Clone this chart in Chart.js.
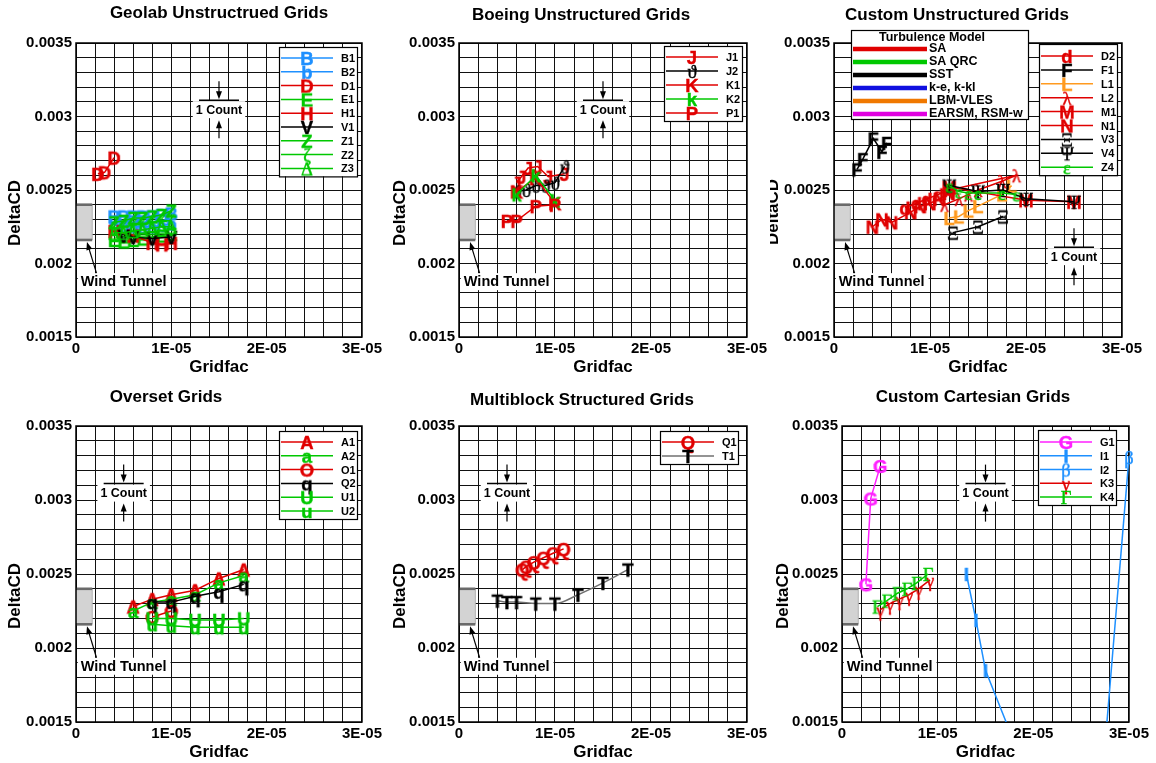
<!DOCTYPE html>
<html>
<head>
<meta charset="utf-8">
<title>DeltaCD vs Gridfac</title>
<script src="https://cdn.jsdelivr.net/npm/chart.js@4/dist/chart.umd.min.js"></script>
<style>
  html, body { margin: 0; padding: 0; background: #fff; }
  #page { position: relative; width: 1156px; height: 763px; overflow: hidden; }
  #page canvas { position: absolute; }
</style>
</head>
<body>
<div id="page">
  <canvas id="pGeolab" width="385" height="380" style="left:0;top:0"></canvas>
  <canvas id="pBoeing" width="385" height="380" style="left:385px;top:0"></canvas>
  <canvas id="pCustomU" width="386" height="380" style="left:770px;top:0"></canvas>
  <canvas id="pOverset" width="385" height="383" style="left:0;top:380px"></canvas>
  <canvas id="pMultiblock" width="385" height="383" style="left:385px;top:380px"></canvas>
  <canvas id="pCartesian" width="386" height="383" style="left:770px;top:380px"></canvas>
</div>
<script>
// axis labels
var xTickValues = [0, 1e-5, 2e-5, 3e-5];
var xTickLabels = ['0', '1E-05', '2E-05', '3E-05'];
var yTickValues = [0.0015, 0.002, 0.0025, 0.003, 0.0035];
var yTickLabels = ['0.0015', '0.002', '0.0025', '0.003', '0.0035'];

// wind tunnel DeltaCD range
var windTunnelCD = [0.00216, 0.0024];
var turbModels = ['SA', 'SA QRC', 'SST', 'k-e, k-kl', 'LBM-VLES', 'EARSM, RSM-w'];

// [gridfac, DeltaCD] per submission
var geoB1 = [[4e-6, 0.00232], [5e-6, 0.00232], [6e-6, 0.00232], [7e-6, 0.00232], [8e-6, 0.00232], [9e-6, 0.00233], [1e-5, 0.00234]];
var geoB2 = [[4e-6, 0.00226], [5e-6, 0.00226], [6e-6, 0.00225], [7e-6, 0.00225], [8e-6, 0.00225], [9e-6, 0.00226], [1e-5, 0.00227]];
var geoD1 = [[2.3e-6, 0.00261], [3e-6, 0.00262], [4e-6, 0.00272]];
var geoE1 = [[4e-6, 0.00216], [5e-6, 0.00215], [6e-6, 0.00216], [7e-6, 0.00217], [8e-6, 0.00218], [9e-6, 0.00219], [1e-5, 0.0022]];
var geoH1 = [[4e-6, 0.00222], [6e-6, 0.00219], [8e-6, 0.00214], [9e-6, 0.00213], [1e-5, 0.00214]];
var geoV1 = [[5e-6, 0.00219], [6e-6, 0.00218], [8e-6, 0.00217], [1e-5, 0.00218]];
var geoZ1 = [[4e-6, 0.00228], [5e-6, 0.00229], [6e-6, 0.00231], [7e-6, 0.00231], [8e-6, 0.00232], [9e-6, 0.00233], [1e-5, 0.00236]];
var geoZ2 = [[4e-6, 0.00224], [5e-6, 0.00225], [6e-6, 0.00226], [7e-6, 0.00227], [8e-6, 0.00228], [9e-6, 0.00229], [1e-5, 0.00229]];
var geoZ3 = [[4e-6, 0.00221], [5e-6, 0.00221], [6e-6, 0.00222], [7e-6, 0.00223], [8e-6, 0.00224], [9e-6, 0.00225], [1e-5, 0.00225]];

var boeJ1 = [[6e-6, 0.00255], [6.5e-6, 0.00259], [7.2e-6, 0.00265], [8.2e-6, 0.00266], [9.3e-6, 0.00259], [1.1e-5, 0.00261]];
var boeJ2 = [[6e-6, 0.00249], [7e-6, 0.0025], [8e-6, 0.00253], [9e-6, 0.00253], [1e-5, 0.00255], [1.1e-5, 0.00266]];
var boeK1 = [[6e-6, 0.00249], [8e-6, 0.00258], [1e-5, 0.00241]];
var boeK2 = [[6e-6, 0.00247], [8e-6, 0.0026], [1e-5, 0.00243]];
var boeP1 = [[5e-6, 0.00229], [6e-6, 0.00229], [8e-6, 0.00239], [1e-5, 0.0024]];

var cusD2 = [[7.4e-6, 0.00238], [8.6e-6, 0.00241], [9.7e-6, 0.00244], [1.09e-5, 0.00247], [1.21e-5, 0.00251]];
var cusF1 = [[2.4e-6, 0.00264], [3e-6, 0.00271], [4.1e-6, 0.00285], [5e-6, 0.00276], [5.5e-6, 0.00282]];
var cusL1 = [[1.2e-5, 0.00231], [1.3e-5, 0.00232], [1.4e-5, 0.00236], [1.5e-5, 0.00239], [1.75e-5, 0.00247], [1.85e-5, 0.00253]];
var cusL2 = [[1.15e-5, 0.0024], [1.3e-5, 0.00244], [1.4e-5, 0.00247], [1.5e-5, 0.0025], [1.75e-5, 0.00256], [1.9e-5, 0.0026], [1.2e-5, 0.0025]];
var cusM1 = [[1.2e-5, 0.00252], [2e-5, 0.00243], [2.5e-5, 0.00242]];
var cusN1 = [[4e-6, 0.00225], [5e-6, 0.0023], [6e-6, 0.00228], [8e-6, 0.00235], [9e-6, 0.00239], [1e-5, 0.00241], [1.1e-5, 0.00244], [1.2e-5, 0.00248]];
var cusV3 = [[1.24e-5, 0.00221], [1.5e-5, 0.00225], [1.76e-5, 0.00232]];
var cusV4 = [[1.2e-5, 0.00253], [1.5e-5, 0.00249], [1.76e-5, 0.0025], [2e-5, 0.00244], [2.5e-5, 0.00242]];
var cusZ4 = [[1.2e-5, 0.00253], [1.3e-5, 0.00249], [1.4e-5, 0.00248], [1.5e-5, 0.00248], [1.75e-5, 0.00248], [1.9e-5, 0.00247]];

var ovA1 = [[6e-6, 0.00228], [8e-6, 0.00233], [1e-5, 0.00236], [1.25e-5, 0.00239], [1.5e-5, 0.00247], [1.76e-5, 0.00253]];
var ovA2 = [[6e-6, 0.00225], [8e-6, 0.00231], [1e-5, 0.00233], [1.25e-5, 0.00236], [1.5e-5, 0.00244], [1.76e-5, 0.00249]];
var ovO1 = [[8e-6, 0.00221], [1e-5, 0.00225]];
var ovQ2 = [[8e-6, 0.00231], [1e-5, 0.00231], [1.25e-5, 0.00235], [1.5e-5, 0.00238], [1.76e-5, 0.00243]];
var ovU1 = [[8e-6, 0.0022], [1e-5, 0.0022], [1.25e-5, 0.00219], [1.5e-5, 0.00219], [1.76e-5, 0.0022]];
var ovU2 = [[8e-6, 0.00216], [1e-5, 0.00215], [1.25e-5, 0.00214], [1.5e-5, 0.00214], [1.76e-5, 0.00214]];

var mbQ1 = [[6.6e-6, 0.00253], [7e-6, 0.00255], [7.8e-6, 0.00258], [8.8e-6, 0.00261], [9.8e-6, 0.00264], [1.09e-5, 0.00267]];
var mbT1 = [[4e-6, 0.00232], [5e-6, 0.00231], [6e-6, 0.00231], [8e-6, 0.0023], [1e-5, 0.0023], [1.24e-5, 0.00236], [1.5e-5, 0.00244], [1.76e-5, 0.00253]];

var ccG1 = [[2.5e-6, 0.00243], [3e-6, 0.00301], [4e-6, 0.00323]];
var ccI1 = [[1.3e-5, 0.0025], [1.4e-5, 0.00219], [1.5e-5, 0.00185], [1.9e-5, 0.0012]];
var ccI2 = [[3e-5, 0.00329], [2.7e-5, 0.00096]];
var ccK3 = [[4e-6, 0.00226], [5e-6, 0.0023], [6e-6, 0.00233], [7e-6, 0.00236], [8e-6, 0.0024], [9.2e-6, 0.00246]];
var ccK4 = [[3.7e-6, 0.00228], [4.7e-6, 0.00232], [5.8e-6, 0.00237], [6.8e-6, 0.0024], [7.8e-6, 0.00244], [9e-6, 0.0025]];

var SANS = '"Liberation Sans", Arial, Helvetica, sans-serif';
var RED = '#e00000', GREEN = '#00c800', BLUE = '#1e90ff', BLACK = '#000000';
var ORANGE = '#ff9a1f', MAGENTA = '#ff20ff', GREY = '#707070';
var turbColors = [RED, GREEN, BLACK, '#1010e0', '#f07800', '#e000e0'];

// minor grid every 2e-6 in x and 1e-4 in y
var xGrid = [], yGrid = [];
for (var k = 0; k <= 15; k++) xGrid.push(k * 2e-6);
for (k = 15; k <= 35; k++) yGrid.push(k / 10000);

var panels = [
  { canvas: 'pGeolab', title: 'Geolab Unstructrued Grids', titleX: 219, titleY: 13, yTitleX: 15, yTitleY: 213,
    pad: { left: 76, top: 43, right: 22, bottom: 43 },
    legend: { left: 279, top: 47, firstRow: 11, rowH: 13.8 },
    count: [1.5e-5, 0.00305],
    series: [
      ['B1', 'B', BLUE, geoB1], ['B2', 'b', BLUE, geoB2], ['D1', 'D', RED, geoD1],
      ['E1', 'E', GREEN, geoE1], ['H1', 'H', RED, geoH1], ['V1', 'V', BLACK, geoV1],
      ['Z1', 'Z', GREEN, geoZ1], ['Z2', '\u03b6', GREEN, geoZ2], ['Z3', '\u0394', GREEN, geoZ3]
    ] },
  { canvas: 'pBoeing', title: 'Boeing Unstructured Grids', titleX: 196, titleY: 15, yTitleX: 15, yTitleY: 213,
    pad: { left: 74, top: 43, right: 23, bottom: 43 },
    legend: { left: 279, top: 46, firstRow: 11, rowH: 14 },
    count: [1.5e-5, 0.00305],
    series: [
      ['J1', 'J', RED, boeJ1], ['J2', '\u03d1', BLACK, boeJ2], ['K1', 'K', RED, boeK1],
      ['K2', 'k', GREEN, boeK2], ['P1', 'P', RED, boeP1]
    ] },
  { canvas: 'pCustomU', title: 'Custom Unstructured Grids', titleX: 187, titleY: 15, yTitleX: 3, yTitleY: 212,
    pad: { left: 64, top: 43, right: 34, bottom: 43 },
    legend: { left: 269, top: 44, firstRow: 12, rowH: 13.9 },
    turbLegend: { left: 81, top: 30, width: 177, height: 89 },
    count: [2.5e-5, 0.00205],
    series: [
      ['D2', 'd', RED, cusD2], ['F1', 'F', BLACK, cusF1], ['L1', 'L', ORANGE, cusL1],
      ['L2', '\u03bb', RED, cusL2], ['M1', 'M', RED, cusM1], ['N1', 'N', RED, cusN1],
      ['V3', '\u039e', BLACK, cusV3], ['V4', '\u03a8', BLACK, cusV4], ['Z4', '\u03b5', GREEN, cusZ4]
    ] },
  { canvas: 'pOverset', title: 'Overset Grids', titleX: 166, titleY: 17, yTitleX: 15, yTitleY: 216,
    pad: { left: 76, top: 46, right: 22, bottom: 41 },
    legend: { left: 279, top: 51, firstRow: 11, rowH: 13.8 },
    count: [5e-6, 0.00305],
    series: [
      ['A1', 'A', RED, ovA1], ['A2', 'a', GREEN, ovA2], ['O1', 'O', RED, ovO1],
      ['Q2', 'q', BLACK, ovQ2], ['U1', 'U', GREEN, ovU1], ['U2', 'u', GREEN, ovU2]
    ] },
  { canvas: 'pMultiblock', title: 'Multiblock Structured Grids', titleX: 197, titleY: 20, yTitleX: 15, yTitleY: 216,
    pad: { left: 74, top: 46, right: 23, bottom: 41 },
    legend: { left: 275, top: 51, firstRow: 11, rowH: 14 },
    count: [5e-6, 0.00305],
    series: [
      ['Q1', 'Q', RED, mbQ1], ['T1', 'T', BLACK, mbT1, { line: GREY, smooth: true }]
    ] },
  { canvas: 'pCartesian', title: 'Custom Cartesian Grids', titleX: 203, titleY: 17, yTitleX: 13, yTitleY: 216,
    pad: { left: 72, top: 46, right: 27, bottom: 41 },
    legend: { left: 268, top: 50, firstRow: 12, rowH: 13.75 },
    count: [1.5e-5, 0.00305],
    series: [
      ['G1', 'G', MAGENTA, ccG1], ['I1', 'I', BLUE, ccI1],
      ['I2', '\u03b2', BLUE, ccI2, { clip: { left: 0, top: 0, right: 12, bottom: 0 } }],
      ['K3', '\u03b3', RED, ccK3], ['K4', '\u0393', GREEN, ccK4]
    ] }
];

// letter symbols used as point markers
function glyphSprite(ch, color) {
  var greek = ch.charCodeAt(0) > 0x36f;
  var size = 18.5;
  var font = greek ? size + 'px "Liberation Serif", "DejaVu Serif", serif' : 'bold ' + size + 'px ' + SANS;
  var c = document.createElement('canvas');
  var g = c.getContext('2d');
  g.font = font;
  var w = Math.ceil(g.measureText(ch).width) + 2;
  if (w % 2) w += 1;
  c.width = w;
  c.height = 26;
  g = c.getContext('2d');
  g.font = font;
  g.fillStyle = color;
  g.strokeStyle = color;
  g.lineWidth = 0.4;
  g.textAlign = 'center';
  g.textBaseline = 'alphabetic';
  g.fillText(ch, w / 2, 13 + size * 0.36);
  g.strokeText(ch, w / 2, 13 + size * 0.36);
  return c;
}

function labelFor(values, labels, v) {
  for (var i = 0; i < values.length; i++) {
    if (Math.abs(values[i] - v) < 1e-10) return labels[i];
  }
  return '';
}

function seg(ctx, x0, y0, x1, y1) {
  ctx.beginPath();
  ctx.moveTo(x0, y0);
  ctx.lineTo(x1, y1);
  ctx.stroke();
}

function arrow(ctx, x0, y0, x1, y1) {
  var a = Math.atan2(y1 - y0, x1 - x0), L = 8, W = 3;
  var c = Math.cos(a), s = Math.sin(a);
  seg(ctx, x0, y0, x1 - c * L * 0.7, y1 - s * L * 0.7);
  ctx.beginPath();
  ctx.moveTo(x1, y1);
  ctx.lineTo(x1 - L * c + W * s, y1 - L * s - W * c);
  ctx.lineTo(x1 - L * c - W * s, y1 - L * s + W * c);
  ctx.closePath();
  ctx.fill();
}

var panelDecor = {
  id: 'panelDecor',
  beforeDatasetsDraw: function (chart) {
    var ctx = chart.ctx, xs = chart.scales.x, ys = chart.scales.y, a = chart.chartArea;
    var bx0 = xs.getPixelForValue(0), bx1 = xs.getPixelForValue(1.7e-6);
    var byTop = ys.getPixelForValue(windTunnelCD[1]), byBot = ys.getPixelForValue(windTunnelCD[0]);
    ctx.save();
    ctx.fillStyle = '#d3d3d3';
    ctx.fillRect(bx0, byTop, bx1 - bx0, byBot - byTop);
    ctx.strokeStyle = '#b0b0b0';
    ctx.lineWidth = 1;
    seg(ctx, bx1, byTop, bx1, byBot);
    ctx.strokeStyle = '#6a6a6a';
    ctx.lineWidth = 2.6;
    seg(ctx, bx0, byTop, bx1, byTop);
    seg(ctx, bx0, byBot, bx1, byBot);
    ctx.strokeStyle = '#000';
    ctx.lineWidth = 1.5;
    ctx.strokeRect(a.left, a.top, a.right - a.left, a.bottom - a.top);
    ctx.restore();
  },
  afterDatasetsDraw: function (chart) {
    var p = chart.options.plugins.panelDecor.panel;
    var ctx = chart.ctx, xs = chart.scales.x, ys = chart.scales.y;
    ctx.save();
    ctx.fillStyle = '#000';
    ctx.strokeStyle = '#000';

    // Wind Tunnel label with arrow to the band
    ctx.font = 'bold 14.5px ' + SANS;
    ctx.textBaseline = 'middle';
    ctx.textAlign = 'left';
    var tx = xs.getPixelForValue(0.5e-6), ty = ys.getPixelForValue(0.00188);
    var tw = ctx.measureText('Wind Tunnel').width;
    ctx.fillStyle = '#fff';
    ctx.fillRect(tx - 3, ty - 8, tw + 7, 17);
    ctx.fillStyle = '#000';
    ctx.fillText('Wind Tunnel', tx, ty + 1);
    ctx.lineWidth = 1.2;
    arrow(ctx, xs.getPixelForValue(2.15e-6), ty - 8, xs.getPixelForValue(1.15e-6), ys.getPixelForValue(windTunnelCD[0]) + 2);

    // 1 Count scale marker (0.0001 in DeltaCD)
    var cx = xs.getPixelForValue(p.count[0]), cy = ys.getPixelForValue(p.count[1]);
    ctx.font = 'bold 12.5px ' + SANS;
    ctx.textAlign = 'center';
    var cw = ctx.measureText('1 Count').width;
    ctx.fillStyle = '#fff';
    ctx.fillRect(cx - cw / 2 - 3, cy - 8, cw + 6, 17);
    ctx.fillStyle = '#000';
    ctx.fillText('1 Count', cx, cy + 1);
    ctx.lineWidth = 1.5;
    seg(ctx, cx - 20, cy - 9, cx + 20, cy - 9);
    ctx.lineWidth = 1.2;
    arrow(ctx, cx, cy - 28, cx, cy - 10);
    arrow(ctx, cx, cy + 29, cx, cy + 11);

    // case legend
    var lg = p.legend, sets = chart.data.datasets;
    var lh = lg.firstRow + lg.rowH * (sets.length - 1) + 8;
    ctx.fillStyle = '#fff';
    ctx.fillRect(lg.left, lg.top, 78, lh);
    ctx.lineWidth = 1.2;
    ctx.strokeRect(lg.left + 0.5, lg.top + 0.5, 78, lh);
    ctx.font = 'bold 11px ' + SANS;
    ctx.textAlign = 'left';
    sets.forEach(function (ds, i) {
      var ry = lg.top + lg.firstRow + lg.rowH * i;
      ctx.strokeStyle = ds.borderColor;
      ctx.lineWidth = 1.5;
      seg(ctx, lg.left + 2, ry, lg.left + 54, ry);
      var im = ds.pointStyle;
      ctx.drawImage(im, lg.left + 28 - im.width / 2, ry - im.height / 2);
      ctx.fillStyle = '#000';
      ctx.fillText(ds.label, lg.left + 62, ry + 1);
    });

    // turbulence model key
    if (p.turbLegend) {
      var t = p.turbLegend;
      ctx.fillStyle = '#fff';
      ctx.fillRect(t.left, t.top, t.width, t.height);
      ctx.strokeStyle = '#000';
      ctx.lineWidth = 1.2;
      ctx.strokeRect(t.left + 0.5, t.top + 0.5, t.width, t.height);
      ctx.font = 'bold 12.5px ' + SANS;
      ctx.fillStyle = '#000';
      ctx.textAlign = 'center';
      ctx.fillText('Turbulence Model', t.left + 81, t.top + 7.5);
      ctx.textAlign = 'left';
      turbModels.forEach(function (name, i) {
        var ry = t.top + 19 + 13 * i;
        ctx.strokeStyle = turbColors[i];
        ctx.lineWidth = 4.5;
        seg(ctx, t.left + 2, ry, t.left + 76, ry);
        ctx.fillStyle = '#000';
        ctx.fillText(name, t.left + 78, ry);
      });
    }
    ctx.restore();
  },
  afterDraw: function (chart) {
    var p = chart.options.plugins.panelDecor.panel;
    var ctx = chart.ctx, a = chart.chartArea;
    ctx.save();
    ctx.fillStyle = '#000';
    ctx.textAlign = 'center';
    ctx.textBaseline = 'middle';
    ctx.font = 'bold 17px ' + SANS;
    ctx.fillText(p.title, p.titleX, p.titleY);
    ctx.fillText('Gridfac', (a.left + a.right) / 2, a.bottom + 30);
    ctx.translate(p.yTitleX, p.yTitleY);
    ctx.rotate(-Math.PI / 2);
    ctx.fillText('DeltaCD', 0, 0);
    ctx.restore();
  }
};

var tickFont = { family: SANS, size: 15, weight: 'bold' };

panels.forEach(function (p) {
  var n = p.series.length;
  var datasets = p.series.map(function (s, i) {
    var opt = s[4] || {};
    return {
      label: s[0],
      data: s[3].map(function (pt) { return { x: pt[0], y: pt[1] }; }),
      showLine: true,
      borderColor: opt.line || s[2],
      backgroundColor: s[2],
      borderWidth: 1.5,
      pointStyle: glyphSprite(s[1], s[2]),
      pointRadius: 6,
      pointHoverRadius: 6,
      tension: opt.smooth ? 0.4 : 0,
      cubicInterpolationMode: opt.smooth ? 'monotone' : 'default',
      clip: opt.clip,
      order: n - i
    };
  });

  new Chart(document.getElementById(p.canvas), {
    type: 'scatter',
    data: { datasets: datasets },
    plugins: [panelDecor],
    options: {
      responsive: false,
      animation: false,
      events: [],
      layout: { padding: { left: 0, top: p.pad.top, right: p.pad.right, bottom: 0 } },
      plugins: {
        legend: { display: false },
        tooltip: { enabled: false },
        panelDecor: { panel: p }
      },
      scales: {
        x: {
          type: 'linear',
          min: 0,
          max: 3e-5,
          afterBuildTicks: function (axis) { axis.ticks = xGrid.map(function (v) { return { value: v }; }); },
          afterFit: function (axis) { axis.height = p.pad.bottom; },
          grid: { color: '#111', lineWidth: 1, drawTicks: false },
          border: { display: false },
          ticks: {
            autoSkip: false, maxRotation: 0, padding: 3, color: '#000', font: tickFont,
            callback: function (v) { return labelFor(xTickValues, xTickLabels, v); }
          }
        },
        y: {
          type: 'linear',
          min: 0.0015,
          max: 0.0035,
          afterBuildTicks: function (axis) { axis.ticks = yGrid.map(function (v) { return { value: v }; }); },
          afterFit: function (axis) { axis.width = p.pad.left; },
          grid: { color: '#111', lineWidth: 1, drawTicks: false },
          border: { display: false },
          ticks: {
            autoSkip: false, padding: 4, color: '#000', font: tickFont,
            callback: function (v) { return labelFor(yTickValues, yTickLabels, v); }
          }
        }
      }
    }
  });
});
</script>
</body>
</html>
